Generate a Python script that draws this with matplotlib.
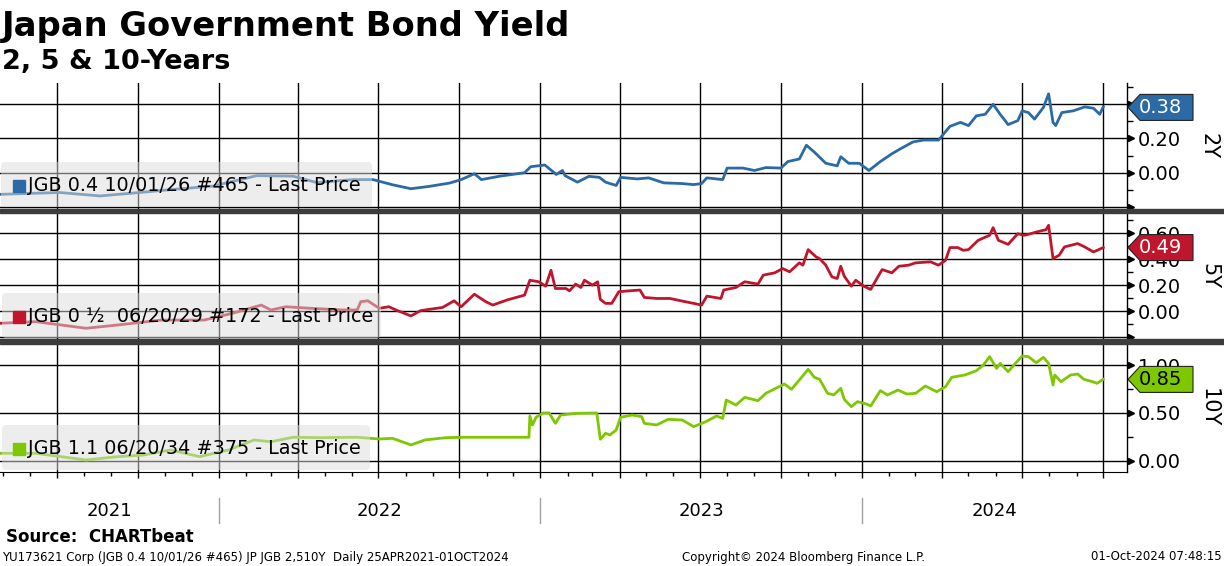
import matplotlib
matplotlib.use("Agg")
import matplotlib.pyplot as plt
import matplotlib.dates as mdates
from matplotlib.transforms import IdentityTransform, blended_transform_factory, ScaledTranslation
from matplotlib.patches import Rectangle, FancyBboxPatch, Polygon
from matplotlib.lines import Line2D
from matplotlib.ticker import MultipleLocator, FuncFormatter
import pandas as pd

# ---------------- data ----------------
y2_dates = ["2021-04-26","2021-07-04","2021-08-19","2021-10-03","2021-11-10","2021-12-25","2022-02-13","2022-03-26",
            "2022-04-22","2022-06-02","2022-06-25","2022-07-17","2022-08-07","2022-08-27","2022-09-20","2022-10-03",
            "2022-10-18","2022-10-26","2022-11-16","2022-12-14","2022-12-21","2023-01-06","2023-01-19","2023-01-26",
            "2023-01-29","2023-02-12","2023-02-25","2023-03-09","2023-03-16","2023-03-28","2023-04-02","2023-04-21",
            "2023-05-04","2023-05-21","2023-06-11","2023-06-24","2023-07-03","2023-07-09","2023-07-27","2023-08-01",
            "2023-08-19","2023-09-01","2023-09-14","2023-10-01","2023-10-09","2023-10-22","2023-10-30","2023-11-08",
            "2023-11-21","2023-12-04","2023-12-08","2023-12-17","2023-12-29","2024-01-09","2024-01-22","2024-02-04",
            "2024-02-14","2024-02-28","2024-03-11","2024-03-28","2024-04-10","2024-04-22","2024-05-01","2024-05-10",
            "2024-05-20","2024-05-29","2024-06-06","2024-06-15","2024-06-26","2024-07-01","2024-07-08","2024-07-15",
            "2024-07-25","2024-07-31","2024-08-05","2024-08-08","2024-08-15","2024-08-28","2024-09-10","2024-09-20",
            "2024-09-27","2024-10-01"]
y2_vals = [-0.126,-0.115,-0.135,-0.115,-0.097,-0.078,-0.017,-0.02,-0.057,-0.04,-0.04,-0.07,-0.093,-0.08,-0.06,-0.04,
           -0.006,-0.04,-0.02,0.0,0.035,0.045,-0.01,0.013,-0.017,-0.055,-0.021,-0.027,-0.055,-0.074,-0.027,-0.036,
           -0.03,-0.059,-0.063,-0.069,-0.063,-0.03,-0.04,0.027,0.027,0.013,0.03,0.027,0.065,0.08,0.16,0.12,
           0.055,0.04,0.093,0.055,0.055,0.013,0.065,0.11,0.14,0.179,0.19,0.19,0.27,0.293,0.274,0.331,
           0.34,0.398,0.34,0.28,0.303,0.36,0.35,0.312,0.379,0.459,0.293,0.274,0.35,0.36,0.383,0.375,0.34,0.383]

y5_dates = ["2021-04-26","2021-06-07","2021-08-03","2021-09-08","2021-10-27","2021-12-15","2022-01-16","2022-02-18",
            "2022-03-01","2022-03-18","2022-04-15","2022-05-22","2022-06-07","2022-06-11","2022-06-19","2022-07-02",
            "2022-07-13","2022-07-21","2022-08-07","2022-08-18","2022-09-12","2022-09-25","2022-10-03","2022-10-18",
            "2022-10-31","2022-11-08","2022-11-24","2022-12-14","2022-12-20","2022-12-30","2023-01-07","2023-01-13",
            "2023-01-18","2023-01-30","2023-02-03","2023-02-10","2023-02-16","2023-02-20","2023-03-01","2023-03-07",
            "2023-03-10","2023-03-16","2023-03-23","2023-03-31","2023-04-12","2023-04-24","2023-04-29","2023-05-13",
            "2023-05-28","2023-06-11","2023-06-24","2023-07-03","2023-07-09","2023-07-25","2023-07-28","2023-08-11",
            "2023-08-21","2023-09-05","2023-09-11","2023-09-24","2023-10-03","2023-10-11","2023-10-22","2023-10-26",
            "2023-11-01","2023-11-10","2023-11-14","2023-11-21","2023-11-28","2023-12-04","2023-12-08","2023-12-12",
            "2023-12-20","2023-12-25","2024-01-03","2024-01-11","2024-01-18","2024-01-24","2024-02-04","2024-02-12",
            "2024-02-23","2024-03-02","2024-03-19","2024-03-28","2024-04-05","2024-04-10","2024-04-19","2024-04-25",
            "2024-05-01","2024-05-12","2024-05-25","2024-05-29","2024-06-04","2024-06-15","2024-06-26","2024-07-03",
            "2024-07-08","2024-07-17","2024-07-28","2024-07-31","2024-08-05","2024-08-12","2024-08-18","2024-09-02",
            "2024-09-10","2024-09-20","2024-10-01"]
y5_vals = [-0.095,-0.082,-0.133,-0.108,-0.07,-0.07,-0.018,0.046,
           0.008,0.033,0.021,0.008,0.008,0.072,0.079,0.021,
           0.033,0.008,-0.038,0.003,0.028,0.079,0.033,0.13,
           0.072,0.046,0.085,0.123,0.238,0.226,0.192,0.315,
           0.174,0.174,0.156,0.208,0.182,0.238,0.2,0.226,
           0.09,0.059,0.059,0.149,0.156,0.162,0.105,0.097,
           0.097,0.077,0.059,0.046,0.115,0.097,0.162,0.182,
           0.226,0.208,0.277,0.295,0.328,0.303,0.372,0.354,
           0.474,0.418,0.405,0.354,0.264,0.251,0.346,0.269,
           0.192,0.238,0.192,0.167,0.251,0.32,0.295,0.346,
           0.354,0.372,0.38,0.354,0.392,0.49,0.49,0.469,
           0.474,0.546,0.585,0.644,0.546,0.515,0.597,0.585,
           0.592,0.61,0.628,0.662,0.405,0.431,0.495,0.521,
           0.495,0.456,0.49]

y10_dates = ["2021-04-26","2021-06-07","2021-08-03","2021-09-08","2021-10-07","2021-11-07","2021-12-10","2022-01-12",
             "2022-02-10","2022-03-01","2022-03-26","2022-04-27","2022-06-07","2022-07-02","2022-07-17","2022-08-07",
             "2022-08-23","2022-09-16","2022-10-06","2022-11-16","2022-12-19","2022-12-20","2022-12-23","2022-12-27",
             "2023-01-04","2023-01-11","2023-01-18","2023-01-24","2023-02-12","2023-03-06","2023-03-10","2023-03-16",
             "2023-03-21","2023-03-28","2023-04-02","2023-04-15","2023-04-26","2023-04-29","2023-05-13","2023-05-26",
             "2023-06-11","2023-06-24","2023-07-08","2023-07-20","2023-07-27","2023-07-31","2023-08-11","2023-08-21",
             "2023-09-05","2023-09-14","2023-10-05","2023-10-13","2023-10-22","2023-11-01","2023-11-08","2023-11-14",
             "2023-11-23","2023-11-30","2023-12-08","2023-12-12","2023-12-20","2023-12-27","2024-01-06","2024-01-11",
             "2024-01-22","2024-01-30","2024-02-11","2024-02-21","2024-03-02","2024-03-13","2024-03-26","2024-04-05",
             "2024-04-12","2024-04-27","2024-05-10","2024-05-18","2024-05-25","2024-06-02","2024-06-06","2024-06-15",
             "2024-06-26","2024-07-01","2024-07-08","2024-07-17","2024-07-25","2024-07-31","2024-08-05","2024-08-07",
             "2024-08-14","2024-08-25","2024-09-02","2024-09-09","2024-09-19","2024-09-24","2024-10-01"]
y10_vals = [0.08,0.08,0.01,0.045,0.061,0.115,0.045,0.115,
            0.219,0.2,0.247,0.243,0.247,0.229,0.236,0.167,
            0.219,0.243,0.247,0.247,0.247,0.469,0.375,0.455,
            0.5,0.5,0.392,0.479,0.497,0.5,0.226,0.288,
            0.271,0.323,0.455,0.479,0.462,0.392,0.375,0.434,
            0.427,0.358,0.41,0.469,0.444,0.635,0.583,0.663,
            0.628,0.705,0.802,0.747,0.844,0.955,0.872,0.851,
            0.705,0.688,0.757,0.642,0.566,0.618,0.594,0.573,
            0.733,0.688,0.739,0.698,0.705,0.781,0.722,0.774,
            0.872,0.896,0.941,1.0,1.087,0.965,1.017,0.931,
            1.045,1.094,1.087,1.024,1.08,1.017,0.792,0.896,
            0.826,0.896,0.906,0.851,0.826,0.809,0.851]

series_names = ["2Y", "5Y", "10Y"]
legend_labels = ["JGB 0.4 10/01/26 #465 - Last Price",
                 "JGB 0 \u00bd  06/20/29 #172 - Last Price",
                 "JGB 1.1 06/20/34 #375 - Last Price"]
last_values = [0.38, 0.49, 0.85]
year_labels = [2021, 2022, 2023, 2024]

title = "Japan Government Bond Yield"
subtitle = "2, 5 & 10-Years"
source = "Source:  CHARTbeat"
footer_left = "YU173621 Corp (JGB 0.4 10/01/26 #465) JP JGB 2,510Y  Daily 25APR2021-01OCT2024"
footer_mid = "Copyright\u00a9 2024 Bloomberg Finance L.P."
footer_right = "01-Oct-2024 07:48:15"

# ---------------- layout / style ----------------
W, H = 1224, 566
AX_RIGHT = 1127
XMIN = pd.Timestamp("2021-04-27 10:00")
XMAX = pd.Timestamp("2024-10-28")
colors = ["#2c6aa6", "#c0162d", "#7dc800"]
badge_text_colors = ["white", "white", "black"]
panel_px = [(83, 209), (213, 339), (344, 472)]
ylims = [(-0.211, 0.522), (-0.216, 0.757), (-0.115, 1.219)]
majors = [0.2, 0.2, 0.5]
minors = [0.1, 0.1, 0.25]
legend_boxes = [(1, 162, 372, 207), (2, 293, 381, 338), (2, 425, 370, 470)]
label_y = [146, 276, 408]

plt.rcParams['font.family'] = ['DejaVu Sans']
fig = plt.figure(figsize=(W / 100, H / 100), dpi=100)
ID = IdentityTransform()


def T(px, py, s, **kw):
    return fig.text(px, H - py, s, transform=ID, **kw)


def fmt(v, pos):
    if v < -1e-9:
        return ""
    return f"{abs(v) if abs(v) < 1e-9 else v:.2f}"


series = [(y2_dates, y2_vals), (y5_dates, y5_vals), (y10_dates, y10_vals)]
axes = []
for i, (dates, vals) in enumerate(series):
    top, bot = panel_px[i]
    ax = fig.add_axes([0, 1 - bot / H, AX_RIGHT / W, (bot - top) / H])
    axes.append(ax)
    ax.plot(pd.to_datetime(dates), vals, color=colors[i], lw=2.0,
            solid_joinstyle='round', zorder=3)
    ax.set_xlim(XMIN, XMAX)
    ax.set_ylim(*ylims[i])
    ax.xaxis.set_major_locator(mdates.MonthLocator(bymonth=[1, 4, 7, 10]))
    ax.xaxis.set_minor_locator(mdates.MonthLocator())
    ax.yaxis.set_major_locator(MultipleLocator(majors[i]))
    ax.yaxis.set_minor_locator(MultipleLocator(minors[i]))
    ax.set_axisbelow(True)
    ax.grid(True, which='major', color='black', lw=1.0)
    ax.yaxis.tick_right()
    ax.yaxis.set_major_formatter(FuncFormatter(fmt))
    ax.tick_params(axis='y', which='major', length=0, pad=8, labelsize=14)
    ax.tick_params(axis='y', which='minor', length=4, width=1, direction='out',
                   right=True, left=False, color='black')
    for sp in ['left', 'top']:
        ax.spines[sp].set_visible(False)
    ax.spines['right'].set_color('black')
    ax.spines['right'].set_linewidth(1.0)
    if i < 2:
        ax.spines['bottom'].set_visible(False)
        ax.tick_params(axis='x', which='both', bottom=False, labelbottom=False)
    else:
        ax.spines['bottom'].set_color('black')
        ax.tick_params(axis='x', which='major', length=4, width=1, labelbottom=False)
        ax.tick_params(axis='x', which='minor', length=3, width=1)
    # arrow tick heads on the right axis
    bt = blended_transform_factory(ax.transAxes, ax.transData) + \
        ScaledTranslation(3.5 / 100, 0, fig.dpi_scale_trans)
    lo, hi = ylims[i]
    k = int(lo // majors[i])
    while k * majors[i] <= hi + 1e-9:
        v = k * majors[i]
        if lo - 1e-9 <= v:
            ax.plot([1.0], [v], marker='>', ms=5, color='black', transform=bt,
                    clip_on=False, zorder=6)
        k += 1
    # series label on the right
    T(1209, label_y[i], series_names[i], rotation=270, ha='center', va='center', fontsize=15)

# separators between panels
fig.add_artist(Rectangle((0, H - 213), W, 4, transform=ID, color='#3c3c3c', zorder=4))
fig.add_artist(Rectangle((0, H - 344), W, 5, transform=ID, color='#3c3c3c', zorder=4))

# legend boxes
for i, (x0, y0, x1, y1) in enumerate(legend_boxes):
    fig.add_artist(FancyBboxPatch((x0, H - y1), x1 - x0, y1 - y0,
                                  boxstyle="round,pad=0,rounding_size=4", transform=ID,
                                  fc='#dcdcdc', ec='none', alpha=0.5, zorder=5))
    cy = (y0 + y1) / 2 + 1
    fig.add_artist(Rectangle((13, H - cy - 6), 12, 12, transform=ID, color=colors[i], zorder=6))
    T(28, cy, legend_labels[i], ha='left', va='center', fontsize=13.8, color='black', zorder=6)

# last value badges
for i, ax in enumerate(axes):
    last_x = mdates.date2num(pd.Timestamp(series[i][0][-1]))
    yd = ax.transData.transform((last_x, last_values[i]))[1]
    tx = ax.transAxes.transform((1, 0))[0] + 1
    verts = [(tx, yd), (tx + 12, yd + 13), (tx + 65, yd + 13), (tx + 65, yd - 13), (tx + 12, yd - 13)]
    fig.add_artist(Polygon(verts, closed=True, transform=ID, fc=colors[i], ec='#222222',
                           lw=0.8, zorder=7))
    fig.text(tx + 11, yd, f"{last_values[i]:.2f}", transform=ID, ha='left', va='center',
             fontsize=14, color=badge_text_colors[i], zorder=8)

# year labels and separators below bottom axis
axb = axes[-1]
for yr in year_labels:
    s = max(XMIN, pd.Timestamp(f"{yr}-01-01"))
    e = min(XMAX, pd.Timestamp(f"{yr + 1}-01-01"))
    xs = axb.transData.transform((mdates.date2num(s), 0))[0]
    xe = axb.transData.transform((mdates.date2num(e), 0))[0]
    T((xs + xe) / 2, 511, str(yr), ha='center', va='center', fontsize=13)
    if pd.Timestamp(f"{yr}-01-01") > XMIN:
        fig.add_artist(Line2D([xs, xs], [H - 498, H - 523], transform=ID, color='#a0a0a0', lw=1))

# titles and footer
T(2, 36, title, ha='left', va='baseline', fontsize=24.3, fontweight='bold')
T(2, 69, subtitle, ha='left', va='baseline', fontsize=19.5, fontweight='bold')
T(6, 537, source, ha='left', va='center', fontsize=12, fontweight='bold')
T(2, 557, footer_left, ha='left', va='center', fontsize=8.5)
T(804, 557, footer_mid, ha='center', va='center', fontsize=8.5)
T(1222, 557, footer_right, ha='right', va='center', fontsize=8.5)

fig.savefig("out.png", dpi=100, facecolor='white')
